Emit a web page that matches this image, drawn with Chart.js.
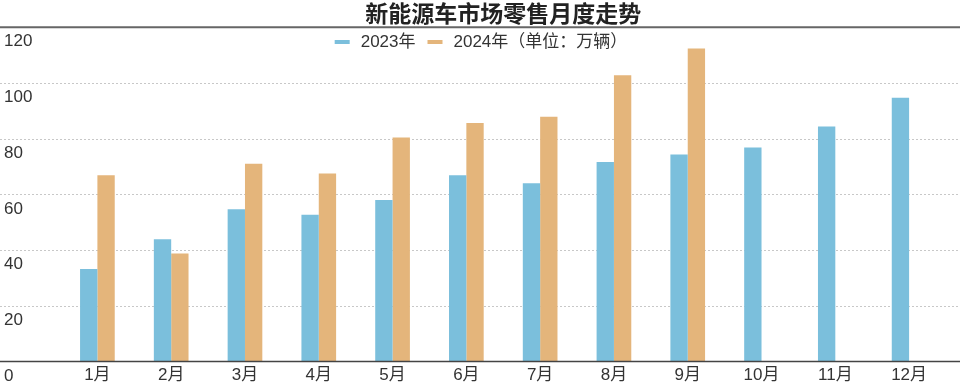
<!DOCTYPE html>
<html>
<head>
<meta charset="utf-8">
<script src="https://cdn.jsdelivr.net/npm/chart.js@4.4.1/dist/chart.umd.min.js"></script>
<style>
html,body{margin:0;padding:0;background:#fff;}
#wrap{width:960px;height:384px;position:relative;}
</style>
</head>
<body>
<div id="wrap"><canvas id="c" width="960" height="384"></canvas></div>
<script>
const titleText = '新能源车市场零售月度走势';
const months = ['1月','2月','3月','4月','5月','6月','7月','8月','9月','10月','11月','12月'];
const label2023 = '2023年';
const label2024 = '2024年（单位：万辆）';
const sales2023 = [33.2, 43.9, 54.6, 52.7, 58.0, 66.8, 64.0, 71.6, 74.3, 76.8, 84.3, 94.7];
const sales2024 = [66.8, 38.8, 71.0, 67.5, 80.4, 85.6, 87.8, 102.7, 112.3, null, null, null];
const yTicks = [0, 20, 40, 60, 80, 100, 120];

const latin = '"Liberation Sans Narrow", "Liberation Sans", "Noto Sans CJK SC", sans-serif';

const frame = {
  id: 'frame',
  beforeDatasetsDraw(chart) {
    const ctx = chart.ctx, y = chart.scales.y, W = chart.width;
    ctx.save();
    yTicks.forEach(v => {
      const py = y.getPixelForValue(v);
      if (v === 0) return;
      if (v === 120) {
        ctx.setLineDash([]);
        ctx.strokeStyle = '#666';
        ctx.lineWidth = 2;
        ctx.beginPath();
        ctx.moveTo(0, py);
        ctx.lineTo(W, py);
        ctx.stroke();
        return;
      }
      ctx.setLineDash([2, 2]);
      ctx.strokeStyle = '#c8c8c8';
      ctx.lineWidth = 1;
      ctx.beginPath();
      ctx.moveTo(0, Math.round(py) + 0.5);
      ctx.lineTo(W, Math.round(py) + 0.5);
      ctx.stroke();
    });
    ctx.restore();
  },
  afterDraw(chart) {
    const ctx = chart.ctx, y = chart.scales.y, W = chart.width;
    ctx.save();
    const p0 = y.getPixelForValue(0);
    ctx.strokeStyle = '#444';
    ctx.lineWidth = 1.5;
    ctx.beginPath();
    ctx.moveTo(0, p0);
    ctx.lineTo(W, p0);
    ctx.stroke();
    // y labels
    ctx.fillStyle = '#333';
    ctx.font = '17px ' + latin;
    ctx.textAlign = 'left';
    ctx.textBaseline = 'middle';
    yTicks.forEach(v => {
      ctx.fillText(String(v), 4, y.getPixelForValue(v) + 14.5);
    });
    // legend
    const ds = chart.data.datasets;
    const boxW = 15, boxH = 4, gapBT = 11, gapItem = 12;
    const widths = ds.map(d => ctx.measureText(d.label).width);
    let total = 0;
    widths.forEach((w, i) => { total += boxW + gapBT + w + (i ? gapItem : 0); });
    let x = 481 - total / 2;
    const cy = 42;
    ds.forEach((d, i) => {
      if (i) x += gapItem;
      ctx.fillStyle = d.backgroundColor;
      ctx.fillRect(x, cy - boxH / 2, boxW, boxH);
      x += boxW + gapBT;
      ctx.fillStyle = '#333';
      ctx.fillText(d.label, x, cy);
      x += widths[i];
    });
    ctx.restore();
  }
};

new Chart(document.getElementById('c'), {
  type: 'bar',
  data: {
    labels: months,
    datasets: [
      { label: label2023, data: sales2023, backgroundColor: '#7bbfdc', borderWidth: 0 },
      { label: label2024, data: sales2024, backgroundColor: '#e4b57b', borderWidth: 0 }
    ]
  },
  plugins: [frame],
  options: {
    responsive: false,
    animation: false,
    devicePixelRatio: 1,
    layout: { padding: { left: 60.5, right: 14, top: 0, bottom: 0 } },
    datasets: { bar: { barPercentage: 1.0, categoryPercentage: 0.47 } },
    plugins: {
      title: {
        display: true,
        text: titleText,
        color: '#222',
        font: { family: '"Noto Sans CJK SC", sans-serif', size: 23, weight: 'bold', lineHeight: 1.18 },
        padding: { top: 0, bottom: 0 }
      },
      legend: { display: false },
      tooltip: { enabled: false }
    },
    scales: {
      x: {
        grid: { display: false, drawTicks: false, tickLength: 0 },
        border: { display: false },
        ticks: { color: '#333', font: { family: latin, size: 17 }, padding: 4, maxRotation: 0 },
        afterFit(s) { s.height = 22.5; }
      },
      y: {
        display: false,
        min: 0, max: 120,
        ticks: { stepSize: 20 }
      }
    }
  }
});
</script>
</body>
</html>
